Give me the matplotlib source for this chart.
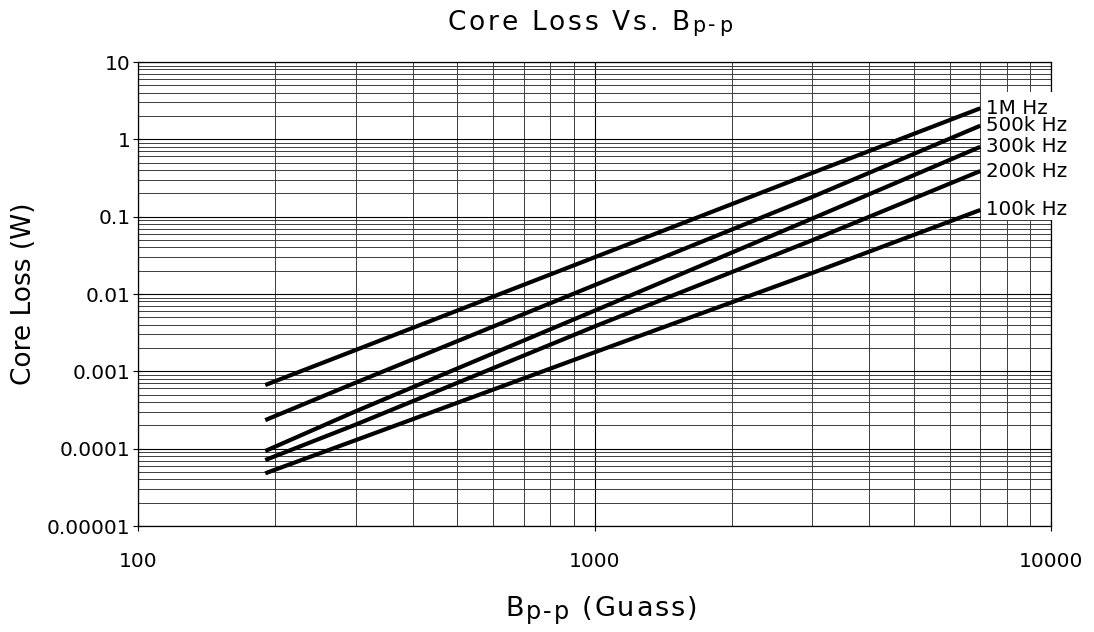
import numpy as np
import matplotlib
matplotlib.use("Agg")
import matplotlib.pyplot as plt
from matplotlib.ticker import FixedLocator, FixedFormatter, LogLocator, NullFormatter
from matplotlib.patches import Rectangle
from matplotlib.transforms import IdentityTransform
from matplotlib.font_manager import findfont, FontProperties
from matplotlib.ft2font import FT2Font

# ---- data ----
b_pp = [190, 300, 1000, 3000, 7000]                      # Gauss
loss_1mhz = [0.000665, 0.00189, 0.0298, 0.368, 2.52]
loss_500khz = [0.000234, 0.000715, 0.0130, 0.180, 1.50]
loss_300khz = [0.0000933, 0.000305, 0.00608, 0.0946, 0.80]
loss_200khz = [0.0000713, 0.000205, 0.0038, 0.0496, 0.389]
loss_100khz = [0.000048, 0.000129, 0.00176, 0.0187, 0.122]
series_labels = ["1M Hz", "500k Hz", "300k Hz", "200k Hz", "100k Hz"]

x_ticks = [100, 1000, 10000]
x_tick_labels = ["100", "1000", "10000"]
y_ticks = [1e-5, 1e-4, 1e-3, 1e-2, 1e-1, 1, 10]
y_tick_labels = ["0.00001", "0.0001", "0.001", "0.01", "0.1", "1", "10"]

plt.rcParams["font.family"] = ["DejaVu Sans"]

W, H = 1094, 632
fig = plt.figure(figsize=(W / 100, H / 100), dpi=100)
ax = fig.add_axes([138 / W, 1 - 526 / H, 913 / W, 464 / H])
ax.set_xscale("log")
ax.set_yscale("log")
ax.set_xlim(100, 10000)
ax.set_ylim(1e-5, 10)

ax.xaxis.set_major_locator(FixedLocator(x_ticks))
ax.xaxis.set_major_formatter(FixedFormatter(x_tick_labels))
ax.yaxis.set_major_locator(FixedLocator(y_ticks))
ax.yaxis.set_major_formatter(FixedFormatter(y_tick_labels))
for axis in (ax.xaxis, ax.yaxis):
    axis.set_minor_locator(LogLocator(base=10, subs=np.arange(2, 10), numticks=20))
    axis.set_minor_formatter(NullFormatter())

ax.grid(which="major", color="black", lw=0.8)
ax.grid(which="minor", color="#3c3c3c", lw=0.7)
ax.tick_params(which="major", direction="inout", length=7, width=0.8,
               labelsize=14.5, colors="black")
ax.tick_params(axis="x", which="major", pad=15)
ax.tick_params(axis="y", which="major", pad=2)
ax.tick_params(which="minor", length=0)
for s in ax.spines.values():
    s.set_color("black")
    s.set_linewidth(0.9)

all_series = [loss_1mhz, loss_500khz, loss_300khz, loss_200khz, loss_100khz]
for vals, lab in zip(all_series, series_labels):
    ax.plot(b_pp, vals, color="black", lw=3, solid_capstyle="butt", zorder=4)
    ax.annotate(lab, xy=(b_pp[-1], vals[-1]), xytext=(4, 0),
                textcoords="offset points", ha="left", va="center",
                fontsize=14.3, color="black", zorder=6, annotation_clip=False)

# white background behind the curve labels (covers grid and right spine)
ax.add_patch(Rectangle((0.9235, 0.659), 0.14, 0.277, transform=ax.transAxes,
                       facecolor="white", edgecolor="none", clip_on=False,
                       zorder=3))

ident = IdentityTransform()
FONT_PATH = findfont(FontProperties(family="DejaVu Sans"))


def advance(ch, size):
    f = FT2Font(FONT_PATH)
    f.set_size(size, 100)
    g = f.load_char(ord(ch))
    return g.linearHoriAdvance / 65536.0


def tracked_text(runs, cx, base_from_top, track):
    """runs: list of (string, fontsize, baseline drop in px)."""
    y0 = H - base_from_top
    items = []
    pen = 0.0
    for s, size, drop in runs:
        for ch in s:
            if ch != " ":
                items.append((pen, ch, size, drop))
            pen += advance(ch, size) + track
    total = pen - track
    x0 = cx - total / 2
    for px, ch, size, drop in items:
        fig.text(x0 + px, y0 - drop, ch, fontsize=size, ha="left",
                 va="baseline", color="black", transform=ident)


tracked_text([("Core Loss Vs. B", 19, 0), ("p-p", 19 * 0.78, 2)],
             589.5, 29.5, 2.8)
tracked_text([("B", 19.5, 0), ("p-p", 19.5 * 0.88, 2.5), (" (Guass)", 19.5, 0)],
             601.5, 616.5, 2.0)

fig.text(24, H - 294, "Core Loss (W)", rotation=90, ha="center", va="center",
         fontsize=19, color="black", transform=ident)

fig.savefig("out.png", dpi=100, facecolor="white")
